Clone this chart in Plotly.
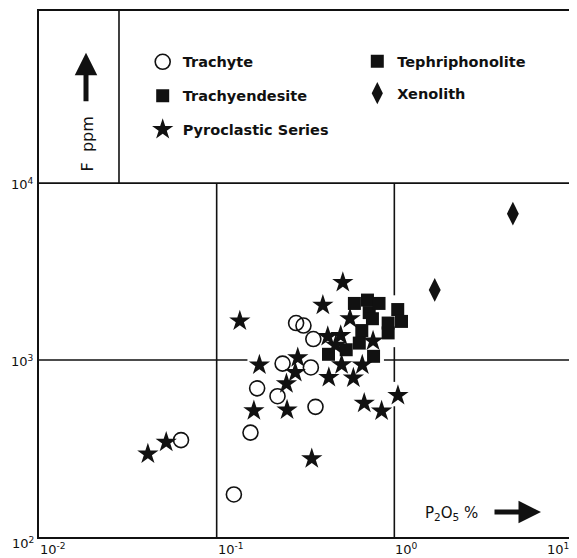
import math
import plotly.graph_objects as go

# ---------------- data (P2O5 %, F ppm) ----------------
trachyte_p2o5 = [0.280, 0.308, 0.350, 0.235, 0.339, 0.169, 0.220, 0.360, 0.155, 0.063, 0.125]
trachyte_f = [1619, 1568, 1315, 955, 908, 692, 625, 544, 389, 353, 174]

tephriphonolite_p2o5 = [0.706, 0.820, 1.045, 0.923, 1.097, 0.923]
tephriphonolite_f = [2183, 2090, 1930, 1619, 1654, 1424]

trachyandesite_p2o5 = [0.596, 0.722, 0.753, 0.656, 0.635, 0.536, 0.426, 0.764]
trachyandesite_f = [2090, 1855, 1713, 1468, 1247, 1144, 1078, 1050]

xenolith_p2o5 = [1.688, 4.648]
xenolith_f = [2492, 6723]

pyro_p2o5 = [0.135, 0.396, 0.513, 0.563, 0.422, 0.499, 0.468, 0.759, 0.286, 0.174,
             0.277, 0.247, 0.162, 0.249, 0.505, 0.660, 0.428, 0.588, 0.677, 0.848,
             1.048, 0.343, 0.052, 0.041]
pyro_f = [1662, 2044, 2749, 1713, 1359, 1377, 1215, 1281, 1032, 939,
          852, 735, 518, 523, 941, 939, 798, 793, 570, 515,
          631, 277, 343, 295]

x_tick_vals = [0.01, 0.1, 1, 10]
x_tick_text = ["10<sup>-2</sup>", "10<sup>-1</sup>", "10<sup>0</sup>", "10<sup>1</sup>"]
y_tick_vals = [100, 1000, 10000]
y_tick_text = ["10<sup>2</sup>", "10<sup>3</sup>", "10<sup>4</sup>"]

# ---------------- layout constants ----------------
OFF = 8                      # page body margin
W, H = 569, 550
ML, MR, MT, MB = 31, 5, 1, 21
PW, PH = W - ML - MR, H - MT - MB
XR = [-2, 1]
YR = [2, 2 + PH / 177.6]
FONT = "DejaVu Sans"
INK = "#111111"


def fx(v):
    return (math.log10(v) - XR[0]) / (XR[1] - XR[0])


def fy(v):
    return (math.log10(v) - YR[0]) / (YR[1] - YR[0])


def sx(p):  # screen px -> paper x
    return (p - OFF - ML) / PW


def sy(p):  # screen px -> paper y
    return (H - MB - (p - OFF)) / PH


fig = go.Figure()

fig.add_trace(go.Scatter(
    x=trachyte_p2o5, y=trachyte_f, mode="markers", name="Trachyte",
    legend="legend", legendgroup="a",
    marker=dict(symbol="circle-open", size=15, color=INK, line=dict(width=1.6, color=INK))))
fig.add_trace(go.Scatter(
    x=trachyandesite_p2o5, y=trachyandesite_f, mode="markers", name="Trachyendesite",
    legend="legend", legendgroup="b",
    marker=dict(symbol="square", size=13, color=INK)))
fig.add_trace(go.Scatter(
    x=pyro_p2o5, y=pyro_f, mode="markers", name="Pyroclastic Series",
    legend="legend", legendgroup="c",
    marker=dict(symbol="star", size=16, color=INK, line=dict(width=0))))
fig.add_trace(go.Scatter(
    x=tephriphonolite_p2o5, y=tephriphonolite_f, mode="markers", name="Tephriphonolite",
    legend="legend2", legendgroup="d",
    marker=dict(symbol="square", size=13, color=INK)))
fig.add_trace(go.Scatter(
    x=xenolith_p2o5, y=xenolith_f, mode="markers", name="Xenolith",
    legend="legend2", legendgroup="e",
    marker=dict(symbol="diamond-tall", size=17, color=INK)))

# ---------------- grid / frame lines ----------------
shapes = []
lw = 1.6


def hline(yv, x0, x1):
    shapes.append(dict(type="line", xref="paper", yref="paper", x0=fx(x0), x1=fx(x1),
                       y0=fy(yv), y1=fy(yv), line=dict(color=INK, width=lw), layer="below"))


def vline(xv, y0, y1, top=False):
    shapes.append(dict(type="line", xref="paper", yref="paper", x0=fx(xv), x1=fx(xv),
                       y0=fy(y0), y1=(1 if top else fy(y1)), line=dict(color=INK, width=lw),
                       layer="below"))


hline(10000, 0.01, 10)
hline(1000, 0.01, 0.149)
hline(1000, 0.874, 10)
vline(0.1, 100, 10000)
vline(1, 100, 548)
vline(1, 753, 1183)
vline(1, 2323, 10000)
vline(0.0282, 10000, None, top=True)

# ---------------- annotations ----------------
ann = []
for v, t in zip(x_tick_vals, x_tick_text):
    last = v == x_tick_vals[-1]
    ann.append(dict(xref="paper", yref="paper", x=fx(v), y=0, text=t, showarrow=False,
                    xanchor="right" if last else "left", yanchor="top",
                    xshift=-1, yshift=-2,
                    font=dict(family=FONT, size=13, color=INK)))
for v, t in zip(y_tick_vals, y_tick_text):
    ann.append(dict(xref="paper", yref="paper", x=0, y=fy(v), text=t, showarrow=False,
                    xanchor="right", yanchor="middle", xshift=-3,
                    yshift=-6 if v == y_tick_vals[0] else -1,
                    font=dict(family=FONT, size=13, color=INK)))

# x-axis title with arrow
ann.append(dict(xref="paper", yref="paper", x=sx(451), y=sy(513),
                text="P<sub>2</sub>O<sub>5</sub> %", showarrow=False, xanchor="center", yanchor="middle",
                font=dict(family=FONT, size=15, color=INK)))
ann.append(dict(xref="paper", yref="paper", x=sx(541), y=sy(512),
                text="", showarrow=True, ax=-48, ay=0, arrowhead=2, arrowsize=0.9, arrowwidth=5,
                arrowcolor=INK))
# y-axis title with arrow
ann.append(dict(xref="paper", yref="paper", x=sx(87), y=sy(143),
                text="F&nbsp;&nbsp;ppm", showarrow=False, textangle=-90, xanchor="center", yanchor="middle",
                font=dict(family=FONT, size=16, color=INK)))
ann.append(dict(xref="paper", yref="paper", x=sx(86), y=sy(51),
                text="", showarrow=True, ax=0, ay=50, arrowhead=2, arrowsize=0.9, arrowwidth=5,
                arrowcolor=INK))

axis_common = dict(type="log", showgrid=False, zeroline=False, showline=True, linewidth=2,
                   linecolor=INK, mirror=True, ticks="", showticklabels=False)

legend_font = dict(family=FONT, size=14.5, color=INK, weight="bold")

fig.update_layout(
    width=W, height=H,
    margin=dict(l=ML, r=MR, t=MT, b=MB),
    paper_bgcolor="white", plot_bgcolor="white",
    xaxis=dict(range=XR, **axis_common),
    yaxis=dict(range=YR, **axis_common),
    shapes=shapes,
    annotations=ann,
    showlegend=True,
    legend=dict(x=sx(142.7), y=sy(44), xanchor="left", yanchor="top",
                traceorder="grouped", tracegroupgap=12,
                bgcolor="rgba(0,0,0,0)", font=legend_font),
    legend2=dict(x=sx(357.3), y=sy(43.5), xanchor="left", yanchor="top",
                 traceorder="grouped", tracegroupgap=10,
                 bgcolor="rgba(0,0,0,0)", font=legend_font),
)

fig.write_html("out.html")
